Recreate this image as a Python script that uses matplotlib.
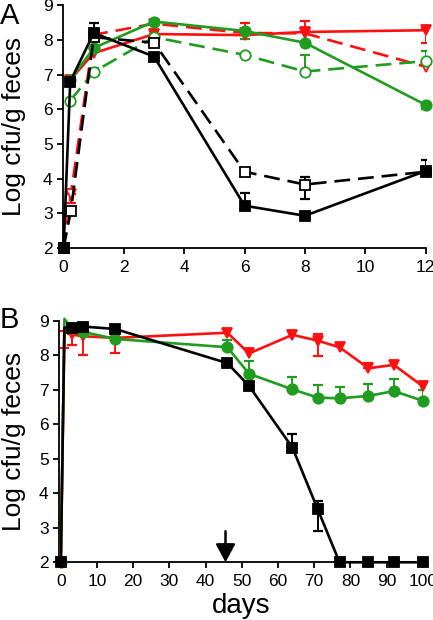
import matplotlib

matplotlib.use("Agg")
import matplotlib.pyplot as plt
import numpy as np

plt.rcParams["font.family"] = ["Liberation Sans", "DejaVu Sans"]

RED = "#ff1010"
GREEN = "#209c20"
BLACK = "#000000"

# ---- panel A (days 0-12) ----
A_BLK_X = [0, 0.22, 1, 3, 6, 8, 12]
A_BLK_Y = [2.0, 6.8, 8.2, 7.52, 3.22, 2.93, 4.22]
A_BLK_UP = [0, 0, 0.28, 0, 0.36, 0, 0.32]
A_BLK_LO = [0, 0, 0, 0, 0, 0, 0]

A_BLKO_X = [0, 0.24, 1, 3, 6, 8, 12]
A_BLKO_Y = [2.0, 3.07, 8.08, 7.92, 4.2, 3.83, 4.2]
A_BLKO_UP = [0, 0, 0, 0, 0, 0.23, 0]
A_BLKO_LO = [0, 0, 0, 0, 0, 0.42, 0]

A_RED_X = [0.22, 1, 3, 6, 8, 12]
A_RED_Y = [6.85, 7.62, 8.17, 8.14, 8.23, 8.28]
A_RED_UP = [0, 0, 0.1, 0.36, 0.33, 0.05]
A_RED_LO = [0, 0, 0, 0, 0, 0.38]

A_REDO_X = [0, 0.24, 1, 3, 6, 8, 12]
A_REDO_Y = [2.0, 3.55, 8.15, 8.47, 8.2, 8.19, 7.23]
A_REDO_UP = [0, 0, 0, 0, 0, 0, 0]
A_REDO_LO = [0, 0.25, 0, 0, 0, 0, 0]

A_GRN_X = [0.22, 1, 3, 6, 8, 12]
A_GRN_Y = [6.85, 7.77, 8.53, 8.26, 7.92, 6.13]
A_GRN_UP = [0, 0, 0, 0, 0, 0]
A_GRN_LO = [0, 0, 0, 0.22, 0, 0.12]

A_GRNO_X = [0.22, 1, 3, 6, 8, 12]
A_GRNO_Y = [6.25, 7.08, 8.08, 7.57, 7.09, 7.39]
A_GRNO_UP = [0, 0.1, 0, 0, 0.47, 0.29]
A_GRNO_LO = [0, 0, 0, 0, 0, 0]

# ---- panel B (days 0-100) ----
B_X = [0, 1, 3, 6, 15, 46, 52, 64, 71, 77, 85, 92, 100]
B_BLK_Y = [2.0, 8.8, 8.8, 8.83, 8.76, 7.77, 7.11, 5.32, 3.53, 2.0, 2.0, 2.0, 2.0]
B_BLK_UP = [0, 0, 0, 0, 0, 0.12, 0, 0.39, 0.25, 0, 0, 0, 0]
B_BLK_LO = [0, 0, 0, 0, 0, 0, 0, 0, 0.63, 0, 0, 0, 0]

B_RED_Y = [2.0, 8.7, 8.6, 8.55, 8.5, 8.65, 8.05, 8.59, 8.42, 8.23, 7.62, 7.72, 7.1]
B_RED_UP = [0, 0, 0, 0, 0, 0, 0, 0, 0.19, 0, 0.15, 0, 0]
B_RED_LO = [0, 0.5, 0.3, 0.55, 0.45, 0, 0, 0, 0.44, 0, 0, 0, 0]

B_GRN_Y = [2.0, 9.05, 8.79, 8.68, 8.47, 8.23, 7.46, 7.01, 6.77, 6.75, 6.82, 6.96, 6.68]
B_GRN_UP = [0, 0, 0, 0, 0, 0.21, 0.37, 0.37, 0.37, 0.34, 0.35, 0.35, 0.31]
B_GRN_LO = [0] * 13

ARROW_DAY = 45.5

LW = 1.9


def draw(ax, x, y, lo, up, color, marker, filled, dashed, ms=7.5, markevery=None):
    x, y, lo, up = map(np.asarray, (x, y, lo, up))
    has = (lo > 0) | (up > 0)
    if has.any():
        ax.errorbar(x[has], y[has], yerr=[lo[has], up[has]], fmt="none",
                    ecolor=color, elinewidth=1.4, capsize=3.6, capthick=1.6, zorder=2)
    ax.plot(x, y, color=color, lw=LW, ls=(0, (6, 3)) if dashed else "-",
            marker=marker, ms=ms, mfc=color if filled else "white", mec=color,
            mew=1.3, markevery=markevery, zorder=3, clip_on=False)


def style(ax):
    for s in ("top", "right"):
        ax.spines[s].set_visible(False)
    for s in ("left", "bottom"):
        ax.spines[s].set_linewidth(1.3)
    ax.tick_params(direction="out", length=4.5, width=1.3, labelsize=12.5, pad=3)
    ax.tick_params(axis="x", pad=4)
    ax.set_ylim(2, 9)
    ax.set_yticks(range(2, 10))


fig = plt.figure(figsize=(4.33, 6.2), dpi=100)

axA = fig.add_axes([63 / 433, 0.6, 362.5 / 433, 0.3915])
draw(axA, A_REDO_X, A_REDO_Y, A_REDO_LO, A_REDO_UP, RED, "v", False, True)
draw(axA, A_RED_X, A_RED_Y, A_RED_LO, A_RED_UP, RED, "v", True, False)
draw(axA, A_GRNO_X, A_GRNO_Y, A_GRNO_LO, A_GRNO_UP, GREEN, "o", False, True)
draw(axA, A_GRN_X, A_GRN_Y, A_GRN_LO, A_GRN_UP, GREEN, "o", True, False)
draw(axA, A_BLKO_X, A_BLKO_Y, A_BLKO_LO, A_BLKO_UP, BLACK, "s", False, True)
draw(axA, A_BLK_X, A_BLK_Y, A_BLK_LO, A_BLK_UP, BLACK, "s", True, False)
style(axA)
axA.set_xlim(-0.02, 12.0)
axA.set_xticks(range(0, 13, 2))
axA.set_ylabel("Log cfu/g feces", fontsize=19)
axA.yaxis.set_label_coords(-0.102, 0.5)

axB = fig.add_axes([59 / 433, 0.0931, 364.5 / 433, 0.3897])
skip1 = [i for i in range(len(B_X)) if i != 1]
draw(axB, B_X, B_RED_Y, B_RED_LO, B_RED_UP, RED, "v", True, False, markevery=skip1)
draw(axB, B_X, B_GRN_Y, B_GRN_LO, B_GRN_UP, GREEN, "o", True, False, markevery=skip1)
draw(axB, B_X, B_BLK_Y, B_BLK_LO, B_BLK_UP, BLACK, "s", True, False, markevery=skip1)
style(axB)
axB.set_xlim(-0.5, 100.2)
axB.set_xticks(range(0, 101, 10))
axB.set_ylabel("Log cfu/g feces", fontsize=19)
axB.yaxis.set_label_coords(-0.0905, 0.5)
axB.set_xlabel("days", fontsize=20, labelpad=3)
axB.annotate("", xy=(ARROW_DAY, 2.0), xytext=(ARROW_DAY, 2.9),
             arrowprops=dict(arrowstyle="-|>,head_length=0.5,head_width=0.27",
                             lw=1.8, color="black", mutation_scale=22,
                             shrinkA=0, shrinkB=0), annotation_clip=False)

fig.text(0.0, 0.975, "A", fontsize=21, ha="left", va="center")
fig.text(0.0, 0.484, "B", fontsize=21, ha="left", va="center")

fig.savefig("out.png", dpi=100)
